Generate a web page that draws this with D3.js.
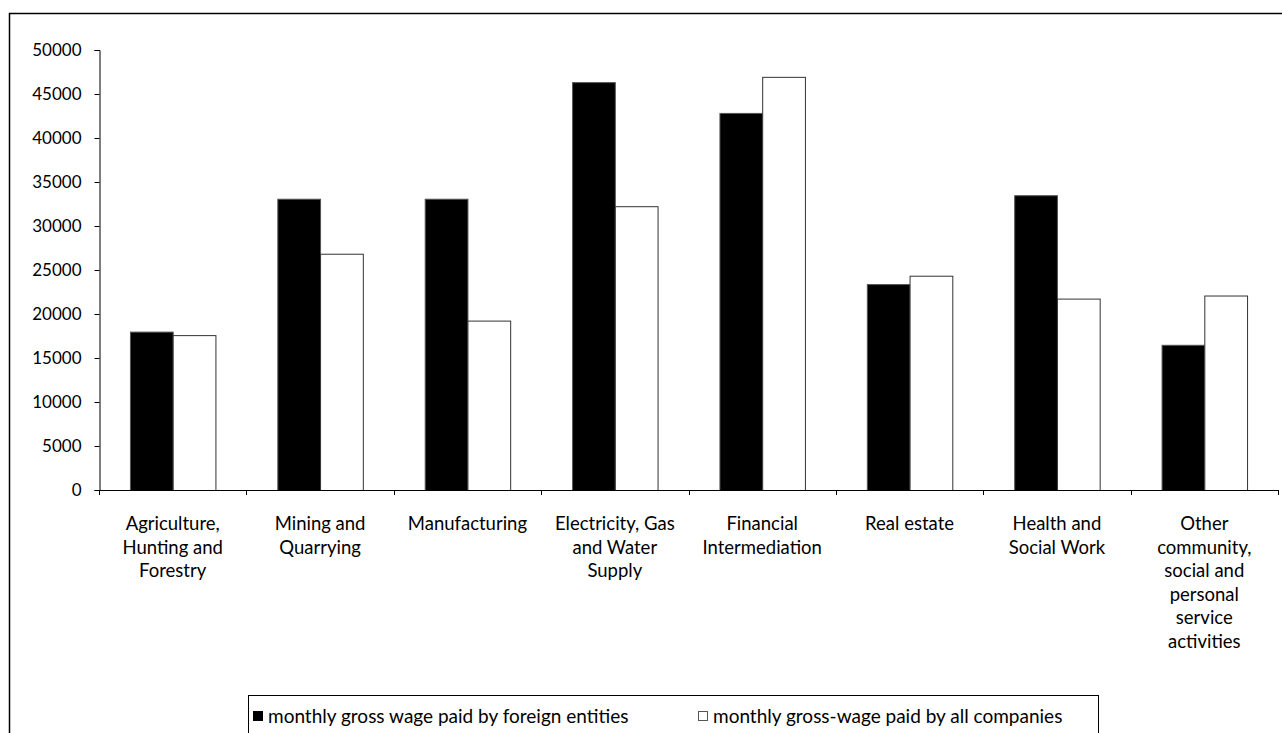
<!DOCTYPE html>
<html>
<head>
<meta charset="utf-8">
<script src="https://cdn.jsdelivr.net/npm/d3@7"></script>
<style>
  html, body { margin: 0; padding: 0; background: #fff; }
  svg { display: block; }
  text { font-family: "Lato", "Open Sans", sans-serif; fill: #000; }
</style>
</head>
<body>
<svg id="chart" width="1282" height="733"></svg>
<script>
// Sector labels, split into the lines shown under each group
const categories = [
  ["Agriculture,", "Hunting and", "Forestry"],
  ["Mining and", "Quarrying"],
  ["Manufacturing"],
  ["Electricity, Gas", "and Water", "Supply"],
  ["Financial", "Intermediation"],
  ["Real estate"],
  ["Health and", "Social Work"],
  ["Other", "community,", "social and", "personal", "service", "activities"]
];

// Monthly gross wage by sector
const foreignEntities = [18000, 33100, 33100, 46350, 42850, 23400, 33500, 16500];
const allCompanies    = [17600, 26850, 19250, 32250, 46950, 24350, 21750, 22100];

const seriesNames = [
  "monthly gross wage paid by foreign entities",
  "monthly gross-wage paid by all companies"
];

const yTicks = [0, 5000, 10000, 15000, 20000, 25000, 30000, 35000, 40000, 45000, 50000];

const svg = d3.select("#chart");

// Outer frame
svg.append("rect")
  .attr("x", 9.5).attr("y", 13.5)
  .attr("width", 1300).attr("height", 800)
  .attr("fill", "none").attr("stroke", "#000").attr("stroke-width", 1.5);

const plot = { left: 99, right: 1278, top: 50, bottom: 490 };

const x = d3.scaleBand()
  .domain(d3.range(categories.length))
  .range([plot.left, plot.right])
  .paddingInner(0).paddingOuter(0);

const inner = d3.scaleBand()
  .domain([0, 1])
  .range([x.bandwidth() * 0.21, x.bandwidth() * 0.79])
  .padding(0);

const y = d3.scaleLinear().domain([0, 50000]).range([plot.bottom, plot.top]);

const series = [foreignEntities, allCompanies];
const fills = ["#000", "#fff"];
const strokes = ["#555", "#333"];

series.forEach((vals, s) => {
  svg.append("g").selectAll("rect")
    .data(vals)
    .join("rect")
    .attr("x", (d, i) => x(i) + inner(s) + 0.5)
    .attr("y", d => y(d) + 0.5)
    .attr("width", inner.bandwidth())
    .attr("height", d => y(0) - y(d))
    .attr("fill", fills[s])
    .attr("stroke", strokes[s])
    .attr("stroke-width", 1);
});

// Y axis
const yAxis = d3.axisLeft(y).tickValues(yTicks).tickSize(5).tickPadding(13)
  .tickFormat(d3.format("d"));
const gy = svg.append("g").attr("transform", `translate(${plot.left + 0.5},0)`).call(yAxis);
gy.select(".domain").attr("stroke", "#000");
gy.selectAll(".tick line").attr("stroke", "#000");
gy.selectAll(".tick text").attr("font-size", 17).attr("font-family", "Lato, sans-serif");

// X axis: line with ticks at the category boundaries
const gx = svg.append("g");
gx.append("line")
  .attr("x1", plot.left).attr("x2", plot.right)
  .attr("y1", plot.bottom + 0.5).attr("y2", plot.bottom + 0.5)
  .attr("stroke", "#000");
const boundaries = d3.range(categories.length + 1).map(i => i < categories.length ? x(i) : plot.right);
gx.selectAll("line.tk")
  .data(boundaries)
  .join("line")
  .attr("class", "tk")
  .attr("x1", d => Math.round(d) + 0.5).attr("x2", d => Math.round(d) + 0.5)
  .attr("y1", plot.bottom).attr("y2", plot.bottom + 5)
  .attr("stroke", "#000");

// Category labels
const lineH = 23.5;
const lab = svg.append("g").selectAll("text")
  .data(categories)
  .join("text")
  .attr("text-anchor", "middle")
  .attr("font-size", 18.5)
  .attr("x", (d, i) => x(i) + x.bandwidth() / 2)
  .attr("y", 530);
lab.selectAll("tspan")
  .data(d => d)
  .join("tspan")
  .attr("x", function() { return d3.select(this.parentNode).attr("x"); })
  .attr("dy", (d, i) => i === 0 ? 0 : lineH)
  .text(d => d);

// Legend
const lg = svg.append("g");
lg.append("rect")
  .attr("x", 248.5).attr("y", 695.5)
  .attr("width", 850).attr("height", 80)
  .attr("fill", "#fff").attr("stroke", "#000").attr("stroke-width", 1);
const legendX = [253, 698];
seriesNames.forEach((name, s) => {
  lg.append("rect")
    .attr("x", legendX[s] + 0.5).attr("y", 711.5)
    .attr("width", 9).attr("height", 9)
    .attr("fill", fills[s]).attr("stroke", s === 0 ? "#000" : "#555");
  lg.append("text")
    .attr("x", legendX[s] + 15).attr("y", 723)
    .attr("font-size", 19)
    .text(name);
});
</script>
</body>
</html>
